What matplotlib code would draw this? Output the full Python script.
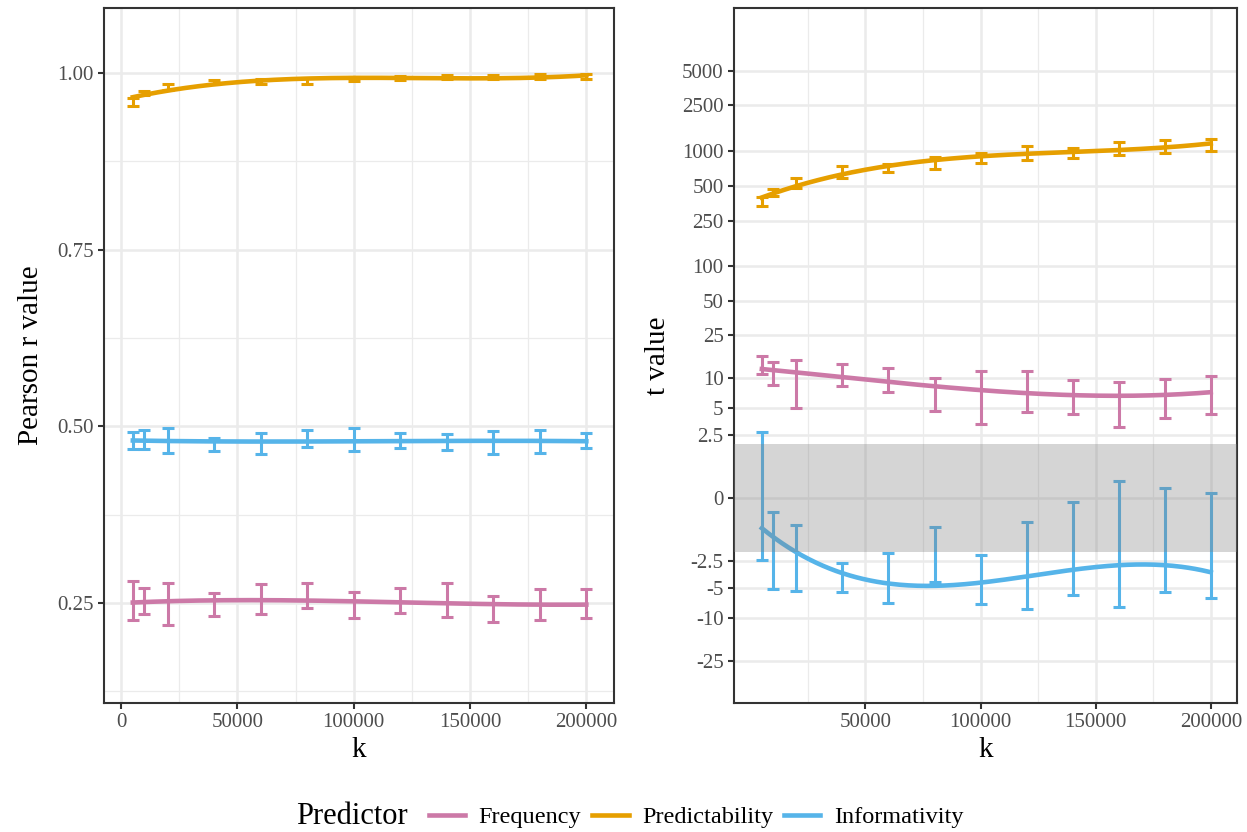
import matplotlib
matplotlib.use("Agg")
import matplotlib.pyplot as plt
from matplotlib.lines import Line2D
import numpy as np

plt.rcParams["font.family"] = ["Liberation Serif", "DejaVu Serif"]

# sample sizes
k = np.array([5000, 10000, 20000, 40000, 60000, 80000, 100000,
              120000, 140000, 160000, 180000, 200000])

# Pearson r (left panel): mean and half width of error bar
freq_r = [0.2538, 0.2526, 0.2488, 0.2481, 0.2557, 0.2604, 0.2474, 0.2535, 0.2538, 0.2410, 0.2479, 0.2495]
freq_r_err = [0.0274, 0.0186, 0.0300, 0.0165, 0.0208, 0.0179, 0.0182, 0.0182, 0.0241, 0.0184, 0.0224, 0.0208]
pred_r = [0.959, 0.972, 0.980, 0.987, 0.988, 0.989, 0.991, 0.993, 0.994, 0.994, 0.995, 0.995]
pred_r_err = [0.005, 0.003, 0.004, 0.003, 0.003, 0.004, 0.003, 0.003, 0.003, 0.003, 0.003, 0.004]
info_r = [0.4797, 0.4818, 0.4797, 0.4743, 0.4762, 0.4825, 0.4809, 0.4800, 0.4783, 0.4771, 0.4790, 0.4802]
info_r_err = [0.0123, 0.0135, 0.0175, 0.0097, 0.0149, 0.0118, 0.0163, 0.0107, 0.0113, 0.0158, 0.0163, 0.0104]

# t values (right panel)
freq_t = [13.3, 11.19, 9.93, 10.93, 9.8, 7.29, 7.42, 8.0, 6.92, 6.07, 6.8, 7.4]
freq_t_err = [2.5, 2.77, 4.87, 2.52, 2.56, 2.63, 4.06, 3.49, 2.63, 2.94, 2.9, 3.07]
pred_t = [371, 438, 534, 673, 727, 798, 886, 981, 971, 1063, 1103, 1144]
pred_t_err = [32, 30, 50, 81, 58, 94, 85, 136, 97, 141, 143, 144]
info_t = [0.115, -2.72, -3.03, -4.06, -4.53, -2.57, -4.68, -4.34, -3.02, -3.66, -2.66, -3.15]
info_t_err = [2.575, 2.39, 2.33, 1.44, 2.55, 1.77, 2.58, 3.73, 2.93, 4.05, 2.88, 3.26]

t_crit = 1.96
t_ticks = [-25, -10, -5, -2.5, 0, 2.5, 5, 10, 25, 50, 100, 250, 500, 1000, 2500, 5000]

colors = {"Frequency": "#CC79A7", "Predictability": "#E69F00", "Informativity": "#56B4E9"}


def fwd(x):
    x = np.asarray(x, dtype=float)
    return np.sign(x) * np.log10(1 + np.abs(x))


def inv(y):
    y = np.asarray(y, dtype=float)
    return np.sign(y) * (10 ** np.abs(y) - 1)


def smooth(x, y, grid, deg=3):
    # cubic trend through the means
    coef = np.polyfit(np.asarray(x, float) / 1e5, np.asarray(y, float), deg)
    return np.polyval(coef, np.asarray(grid, float) / 1e5)


W, H = 1247, 832
fig = plt.figure(figsize=(W / 100, H / 100), dpi=100)
ax1 = fig.add_axes([104 / W, 1 - 703 / H, 510 / W, 695 / H])
ax2 = fig.add_axes([734 / W, 1 - 703 / H, 503 / W, 695 / H])

grid = np.linspace(k.min(), k.max(), 200)
tick_col = "#4D4D4D"

for ax in (ax1, ax2):
    ax.set_facecolor("white")
    for s in ax.spines.values():
        s.set_color("#333333")
        s.set_linewidth(1.5)
    ax.tick_params(colors="#333333", labelcolor=tick_col, labelsize=15, width=1.5, length=4)
    ax.grid(True, which="major", color="#EBEBEB", lw=1.8, zorder=0)
    ax.grid(True, which="minor", axis="x", color="#EBEBEB", lw=0.9, zorder=0)
    ax.set_axisbelow(True)
    ax.set_xlabel("k", fontsize=21, labelpad=3)

# left panel
series_r = [("Frequency", freq_r, freq_r_err), ("Predictability", pred_r, pred_r_err),
            ("Informativity", info_r, info_r_err)]
for name, m, e in series_r:
    c = colors[name]
    ax1.errorbar(k, m, yerr=e, fmt="none", ecolor=c, elinewidth=2.2,
                 capsize=4.3, capthick=2.2, zorder=3)
    ax1.plot(grid, smooth(k, m, grid), color=c, lw=3.3, zorder=4)

ax1.set_xlim(-7400, 211900)
ax1.set_ylim(0.1085, 1.092)
ax1.set_xticks([0, 50000, 100000, 150000, 200000])
ax1.set_xticks([25000, 75000, 125000, 175000], minor=True)
ax1.set_yticks([0.25, 0.50, 0.75, 1.00])
ax1.set_yticks([0.125, 0.375, 0.625, 0.875], minor=True)
ax1.set_yticklabels(["0.25", "0.50", "0.75", "1.00"])
ax1.grid(True, which="minor", axis="y", color="#EBEBEB", lw=0.9, zorder=0)
ax1.tick_params(which="minor", length=0)
ax1.set_ylabel("Pearson r value", fontsize=21, labelpad=9)

# right panel
ax2.set_yscale("function", functions=(fwd, inv))
series_t = [("Frequency", freq_t, freq_t_err), ("Predictability", pred_t, pred_t_err),
            ("Informativity", info_t, info_t_err)]
for name, m, e in series_t:
    c = colors[name]
    ax2.errorbar(k, m, yerr=e, fmt="none", ecolor=c, elinewidth=2.2,
                 capsize=4.3, capthick=2.2, zorder=3)
    ax2.plot(grid, inv(smooth(k, fwd(m), grid)), color=c, lw=3.3, zorder=4)

ax2.axhspan(-t_crit, t_crit, color="#808080", alpha=0.33, lw=0, zorder=5)
ax2.set_xlim(-7100, 211400)
ax2.set_ylim(float(inv(-1.775)), float(inv(4.242)))
ax2.set_xticks([50000, 100000, 150000, 200000])
ax2.set_xticks([25000, 75000, 125000, 175000], minor=True)
ax2.set_yticks(t_ticks)
ax2.set_yticklabels([f"{v:g}" for v in t_ticks])
ax2.yaxis.set_minor_locator(matplotlib.ticker.NullLocator())
ax2.tick_params(which="minor", length=0)
ax2.set_ylabel("t value", fontsize=21, labelpad=8)

# legend
handles = [Line2D([], [], color=colors[n], lw=3.3) for n in colors]
fig.text(296 / W, 1 - 817 / H, "Predictor", fontsize=22, ha="left", va="center")
fig.legend(handles, list(colors), loc="center", bbox_to_anchor=(696 / W, 1 - 817 / H),
           ncol=3, frameon=False, fontsize=17.5, handlelength=1.5, handletextpad=0.55,
           columnspacing=0.45)

fig.savefig("out.png", dpi=100)
